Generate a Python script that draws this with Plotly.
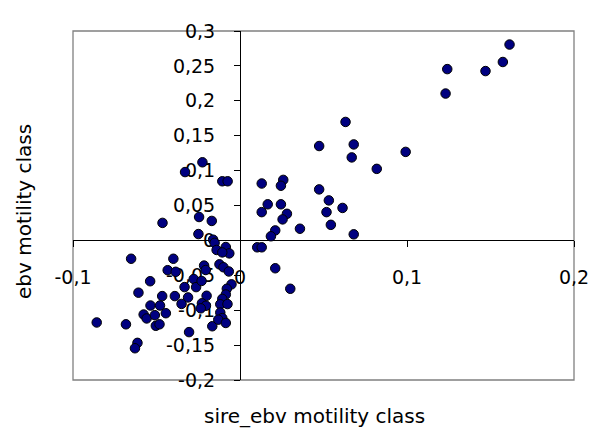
"""Scatter of ebv vs sire_ebv for motility class."""

import plotly.graph_objects as go

# sire_ebv motility class (x) and ebv motility class (y)
sire_ebv = [
    0.1614, 0.1574, 0.1470, 0.1241, 0.1231, 0.0632, 0.0474, 0.0681, 0.0669, 0.0992,
    0.0819, 0.0474, 0.0532, 0.0518, 0.0614, 0.0544, 0.0681, 0.0359, 0.0259, 0.0245,
    0.0130, 0.0166, 0.0245, 0.0130, 0.0281, 0.0255, 0.0211, 0.0185, 0.0103, 0.0130,
    0.0211, 0.0301,
    -0.0225, -0.0329, -0.0106, -0.0074, -0.0464, -0.0245, -0.0169, -0.0249, -0.0161, -0.0152,
    -0.0085, -0.0140, -0.0064, -0.0106,
    -0.0652, -0.0399, -0.0433, -0.0385, -0.0215, -0.0205, -0.0123, -0.0099, -0.0067,
    -0.0538, -0.0277, -0.0263, -0.0332, -0.0230, -0.0051, -0.0079, -0.0608, -0.0466, -0.0390,
    -0.0311, -0.0200, -0.0085, -0.0106, -0.0350, -0.0536, -0.0479, -0.0228, -0.0204, -0.0118,
    -0.0075, -0.0235, -0.0577, -0.0559, -0.0510, -0.0444, -0.0118, -0.0106, -0.0858, -0.0683,
    -0.0504, -0.0482, -0.0166, -0.0130, -0.0085, -0.0305, -0.0614, -0.0629,
]
ebv = [
    0.2806, 0.2556, 0.2426, 0.2454, 0.2104, 0.1697, 0.1352, 0.1375, 0.1189, 0.1268,
    0.1025, 0.0731, 0.0573, 0.0405, 0.0465, 0.0223, 0.0087, 0.0167, 0.0867, 0.0783,
    0.0815, 0.0517, 0.0517, 0.0405, 0.0381, 0.0301, 0.0143, 0.0059, -0.0099, -0.0099,
    -0.0399, -0.0693,
    0.1119, 0.0979, 0.0847, 0.0847, 0.0251, 0.0335, 0.0279, 0.0091, 0.0010, -0.0035,
    -0.0095, -0.0137, -0.0186, -0.0172,
    -0.0263, -0.0263, -0.0427, -0.0450, -0.0361, -0.0424, -0.0343, -0.0385, -0.0445,
    -0.0585, -0.0553, -0.0669, -0.0669, -0.0581, -0.0630, -0.0693, -0.0749, -0.0798, -0.0798,
    -0.0817, -0.0793, -0.0775, -0.0838, -0.0910, -0.0933, -0.0933, -0.0901, -0.0936, -0.0915,
    -0.0912, -0.0973, -0.1062, -0.1118, -0.1071, -0.1043, -0.1034, -0.1113, -0.1176, -0.1202,
    -0.1223, -0.1202, -0.1230, -0.1136, -0.1183, -0.1314, -0.1468, -0.1545,
]

x_ticks = [-0.1, 0, 0.1, 0.2]
x_tick_labels = ["-0,1", "0", "0,1", "0,2"]
y_ticks = [-0.2, -0.15, -0.1, -0.05, 0, 0.05, 0.1, 0.15, 0.2, 0.25, 0.3]
y_tick_labels = ["-0,2", "-0,15", "-0,1", "-0,05", "0", "0,05", "0,1", "0,15", "0,2", "0,25", "0,3"]

FONT = "DejaVu Sans"

fig = go.Figure()
fig.add_trace(
    go.Scatter(
        x=sire_ebv,
        y=ebv,
        mode="markers",
        marker=dict(size=9.5, color="#000080", line=dict(color="black", width=1)),
        showlegend=False,
        hoverinfo="x+y",
    )
)

# axes sit on the zero lines, like the Excel original
axis_common = dict(
    anchor="free",
    showline=True,
    linecolor="black",
    linewidth=1,
    ticks="outside",
    ticklen=6,
    tickcolor="black",
    tickwidth=1,
    showgrid=False,
    zeroline=False,
    layer="below traces",
    tickfont=dict(family=FONT, size=19, color="black"),
)

# page body has an 8px margin, so the figure is 8px smaller than the window
fig.update_layout(
    width=593,
    height=422,
    margin=dict(l=65, r=25, t=15, b=50),
    paper_bgcolor="white",
    plot_bgcolor="white",
    xaxis=dict(
        range=[-0.1, 0.2],
        position=0.4,
        tickvals=x_ticks,
        ticktext=x_tick_labels,
        ticklabelstandoff=14,
        **axis_common,
    ),
    yaxis=dict(
        range=[-0.2, 0.3],
        position=1 / 3,
        tickvals=y_ticks,
        ticktext=y_tick_labels,
        ticklabelstandoff=15,
        **axis_common,
    ),
    shapes=[
        dict(
            type="rect", xref="paper", yref="paper", x0=0, y0=0, x1=1, y1=1,
            line=dict(color="#808080", width=1.3), layer="below",
        )
    ],
    annotations=[
        dict(
            text="sire_ebv motility class", xref="paper", yref="paper",
            x=0.483, y=-0.104, xanchor="center", yanchor="middle", showarrow=False,
            font=dict(family=FONT, size=20, color="black"),
        ),
        dict(
            text="ebv motility class", xref="paper", yref="paper", textangle=-90,
            x=-0.0974, y=0.482, xanchor="center", yanchor="middle", showarrow=False,
            font=dict(family=FONT, size=20, color="black"),
        ),
    ],
)

fig.write_html("out.html")
